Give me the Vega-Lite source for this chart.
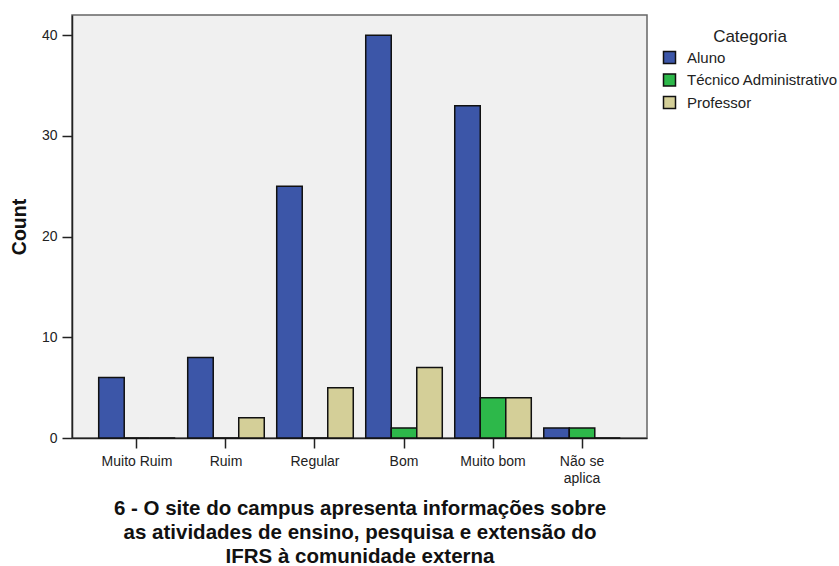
{
  "$schema": "https://vega.github.io/schema/vega-lite/v6.json",
  "autosize": {"type": "none"},
  "width": 575,
  "height": 423,
  "padding": {"left": 72, "top": 15, "right": 192, "bottom": 128},
  "background": "white",
  "config": {
    "font": "Liberation Sans",
    "view": {"fill": "#f0f0f0", "stroke": "#666666", "strokeWidth": 1.5}
  },
  "data": {
    "values": [
      {"resposta": "Muito Ruim", "categoria": "Aluno", "count": 6},
      {"resposta": "Muito Ruim", "categoria": "Técnico Administrativo", "count": 0},
      {"resposta": "Muito Ruim", "categoria": "Professor", "count": 0},
      {"resposta": "Ruim", "categoria": "Aluno", "count": 8},
      {"resposta": "Ruim", "categoria": "Técnico Administrativo", "count": 0},
      {"resposta": "Ruim", "categoria": "Professor", "count": 2},
      {"resposta": "Regular", "categoria": "Aluno", "count": 25},
      {"resposta": "Regular", "categoria": "Técnico Administrativo", "count": 0},
      {"resposta": "Regular", "categoria": "Professor", "count": 5},
      {"resposta": "Bom", "categoria": "Aluno", "count": 40},
      {"resposta": "Bom", "categoria": "Técnico Administrativo", "count": 1},
      {"resposta": "Bom", "categoria": "Professor", "count": 7},
      {"resposta": "Muito bom", "categoria": "Aluno", "count": 33},
      {"resposta": "Muito bom", "categoria": "Técnico Administrativo", "count": 4},
      {"resposta": "Muito bom", "categoria": "Professor", "count": 4},
      {"resposta": "Não se aplica", "categoria": "Aluno", "count": 1},
      {"resposta": "Não se aplica", "categoria": "Técnico Administrativo", "count": 1},
      {"resposta": "Não se aplica", "categoria": "Professor", "count": 0}
    ]
  },
  "mark": {"type": "bar", "stroke": "#111111", "strokeWidth": 1.5},
  "encoding": {
    "x": {
      "field": "resposta",
      "type": "nominal",
      "sort": ["Muito Ruim", "Ruim", "Regular", "Bom", "Muito bom", "Não se aplica"],
      "scale": {"paddingInner": 0.14, "paddingOuter": 0.3},
      "axis": {
        "labelAngle": 0,
        "labelFontSize": 14,
        "labelColor": "#222222",
        "labelPadding": 6,
        "labelLineHeight": 17,
        "labelExpr": "datum.value == 'Não se aplica' ? ['Não se', 'aplica'] : datum.value",
        "tickSize": 10,
        "tickColor": "#222222",
        "tickWidth": 1.5,
        "domainColor": "#222222",
        "domainWidth": 1.5,
        "title": ["6 - O site do campus apresenta informações sobre", "as atividades de ensino, pesquisa e extensão do", "IFRS à comunidade externa"],
        "titleFontSize": 20.5,
        "titleFontWeight": "bold",
        "titleColor": "#111111",
        "titleLineHeight": 24,
        "titlePadding": 13
      }
    },
    "xOffset": {
      "field": "categoria",
      "type": "nominal",
      "sort": ["Aluno", "Técnico Administrativo", "Professor"]
    },
    "y": {
      "field": "count",
      "type": "quantitative",
      "scale": {"domain": [0, 42], "nice": false},
      "axis": {
        "values": [0, 10, 20, 30, 40],
        "grid": false,
        "labelFontSize": 14,
        "labelColor": "#222222",
        "labelPadding": 5,
        "tickSize": 10,
        "tickColor": "#222222",
        "tickWidth": 1.5,
        "domainColor": "#222222",
        "domainWidth": 1.5,
        "title": "Count",
        "titleFontSize": 19.5,
        "titleFontWeight": "bold",
        "titleColor": "#111111",
        "titlePadding": 12
      }
    },
    "color": {
      "field": "categoria",
      "type": "nominal",
      "scale": {
        "domain": ["Aluno", "Técnico Administrativo", "Professor"],
        "range": ["#3c56a8", "#2db84a", "#d4cf98"]
      },
      "legend": {
        "orient": "none",
        "legendX": 590,
        "legendY": 14,
        "title": "Categoria",
        "titleFontSize": 17,
        "titleFontWeight": "normal",
        "titleColor": "#222222",
        "titleAnchor": "middle",
        "titlePadding": 4,
        "labelFontSize": 15,
        "labelColor": "#222222",
        "labelOffset": 10,
        "symbolType": "square",
        "symbolSize": 144,
        "symbolStrokeColor": "#111111",
        "symbolStrokeWidth": 1.5,
        "symbolOpacity": 1,
        "rowPadding": 3.5
      }
    }
  }
}
